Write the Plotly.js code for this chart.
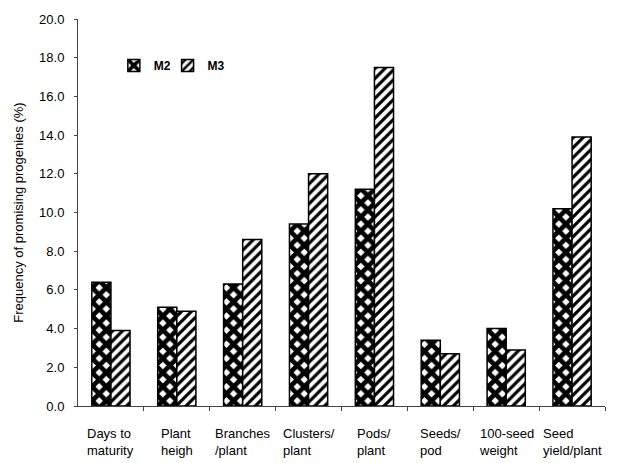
<!DOCTYPE html>
<html>
<head>
<meta charset="utf-8">
<script src="https://cdn.plot.ly/plotly-3.0.1.min.js"></script>
<style>html,body{margin:0;padding:0;background:#fff;}#chart{width:621px;height:463px;}</style>
</head>
<body>
<div id="chart"></div>
<script>
const categories = ["Days to<br>maturity", "Plant<br>heigh", "Branches<br>/plant", "Clusters/<br>plant", "Pods/<br>plant", "Seeds/<br>pod", "100-seed<br>weight", "Seed<br>yield/plant"];
const m2 = [6.4, 5.1, 6.3, 9.4, 11.2, 3.4, 4.0, 10.2];
const m3 = [3.9, 4.9, 8.6, 12.0, 17.5, 2.7, 2.9, 13.9];
const seriesNames = ["M2", "M3"];
const yTitle = "Frequency of promising progenies (%)";

const font = "Liberation Sans, Arial, sans-serif";
const idx = categories.map((c, i) => i);

const traces = [
  {
    type: "bar", name: seriesNames[0], x: idx, y: m2, legend: "legend",
    marker: {
      color: "#000",
      line: {color: "#000", width: 1.5},
      pattern: {shape: "x", fgcolor: "#000", bgcolor: "#fff", size: 10, solidity: 0.72, fillmode: "replace"}
    }
  },
  {
    type: "bar", name: seriesNames[1], x: idx, y: m3, legend: "legend2",
    marker: {
      color: "#fff",
      line: {color: "#000", width: 1.5},
      pattern: {shape: "/", fgcolor: "#000", bgcolor: "#fff", size: 7, solidity: 0.45, fillmode: "replace"}
    }
  }
];

const annotations = categories.map((c, i) => ({
  x: i, y: 0, xref: "x", yref: "y", text: c, showarrow: false,
  xanchor: "center", yanchor: "top", align: "left", yshift: -18,
  font: {family: font, size: 13, color: "#000"}
}));

const legendBase = {
  orientation: "h", y: 0.88, xanchor: "left", yanchor: "middle",
  font: {family: font, size: 12, color: "#000", weight: "bold"},
  itemwidth: 30, tracegroupgap: 0, bgcolor: "rgba(0,0,0,0)"
};

const layout = {
  width: 621, height: 463,
  margin: {l: 78, r: 16, t: 19, b: 57},
  paper_bgcolor: "#fff", plot_bgcolor: "#fff",
  barmode: "group", bargap: 0.42, bargroupgap: 0,
  showlegend: true,
  legend: Object.assign({}, legendBase, {x: 0.068}),
  legend2: Object.assign({}, legendBase, {x: 0.17}),
  xaxis: {
    type: "linear", range: [-0.5, 7.5], showgrid: false, zeroline: false,
    showline: true, linecolor: "#444", linewidth: 1,
    tickmode: "array", tickvals: [0.5, 1.5, 2.5, 3.5, 4.5, 5.5, 6.5, 7.5],
    ticks: "outside", ticklen: 4, tickcolor: "#444", showticklabels: false
  },
  yaxis: {
    range: [0, 20], dtick: 2, tickformat: ".1f", showgrid: false, zeroline: false,
    showline: true, linecolor: "#444", linewidth: 1,
    ticks: "outside", ticklen: 3, tickcolor: "#444", ticklabelstandoff: 7,
    tickfont: {family: font, size: 13, color: "#000"},
    title: {text: yTitle, font: {family: font, size: 13, color: "#000"}, standoff: 12}
  },
  annotations: annotations
};

Plotly.newPlot("chart", traces, layout, {displayModeBar: false, staticPlot: true});
</script>
</body>
</html>
